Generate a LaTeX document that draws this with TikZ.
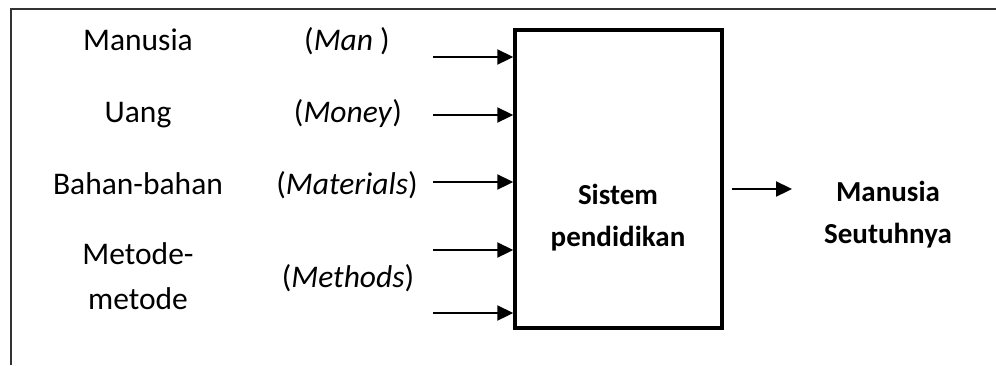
\documentclass[tikz,border=0pt]{standalone}
\usepackage{fontspec}
\setmainfont{Carlito}
\usetikzlibrary{arrows.meta,positioning}
\tikzstyle{l1}=[line width=2.3]
\tikzstyle{arr}=[l1, -{Triangle[length=16pt,width=15pt]}]
\tikzstyle{txt}=[font=\fontsize{31.5}{45}\selectfont, align=center, inner sep=0pt, anchor=base]
\tikzstyle{btxt}=[font=\fontsize{29}{42}\selectfont\bfseries, align=center, inner sep=0pt, anchor=base]

\begin{document}
\begin{tikzpicture}[x=1pt,y=-1pt]
    \useasboundingbox (0,0) rectangle (996,365);
    \draw[line width=1.5, black!80] (11,365) -- (11,9) -- (996,9);

    % inputs
    \node[txt] at (138,50) (man) {Manusia};
    \node[txt] at (138,122) (uang) {Uang};
    \node[txt] at (138,194) (bahan) {Bahan-bahan};
    \node[txt] at (138,309) (metode) {Metode-\\metode};
    \node[txt] at (347,50) (mane) {(\textit{Man} )};
    \node[txt] at (348,122) (money) {(\textit{Money})};
    \node[txt] at (347,194) (mat) {(\textit{Materials})};
    \node[txt] at (348,287) (meth) {(\textit{Methods})};

    \node[draw, line width=3.5, minimum width=207pt, minimum height=298pt, inner sep=0pt] at (618.5,179) (box) {};
    \node[btxt] at (618,246) (sis) {Sistem\\pendidikan};
    \node[btxt] at (888,243) (res) {Manusia\\Seutuhnya};

    \coordinate (a1) at (433,57);
    \coordinate (a2) at (433,115);
    \coordinate (a3) at (433,182);
    \coordinate (a4) at (433,250);
    \coordinate (a5) at (433,313);
    \coordinate (o) at (792,189);
    \draw[arr] (a1) -- (a1 -| box.west);
    \draw[arr] (a2) -- (a2 -| box.west);
    \draw[arr] (a3) -- (a3 -| box.west);
    \draw[arr] (a4) -- (a4 -| box.west);
    \draw[arr] (a5) -- (a5 -| box.west);
    \draw[arr, shorten <=8pt] (o -| box.east) -- (o);
\end{tikzpicture}
\end{document}
